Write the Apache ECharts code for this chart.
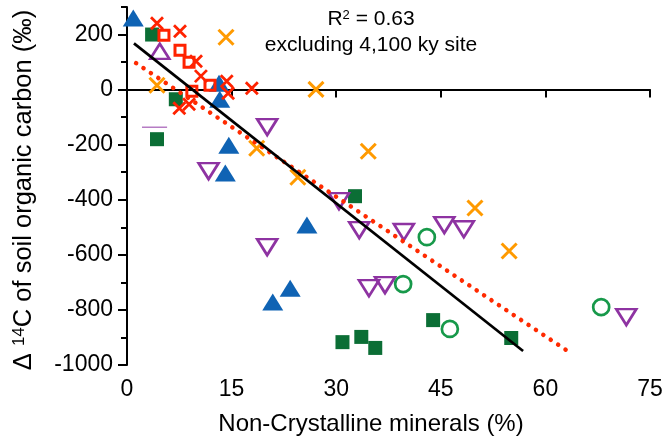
<!DOCTYPE html>
<html>
<head>
<meta charset="utf-8">
<script src="https://cdn.jsdelivr.net/npm/echarts@6/dist/echarts.min.js"></script>
<style>
html,body{margin:0;padding:0;background:#fff;}
#chart{width:667px;height:439px;}
</style>
</head>
<body>
<div id="chart"></div>
<script>
// ---- data (x = non-crystalline minerals %, y = Δ14C ‰) ----
const blueTriangles = [[0.9,260],[13.2,23],[13.3,-35],[14.6,-202],[14.1,-303],[25.8,-492],[23.4,-721],[20.9,-771]];
const greenSquares = [[3.6,200],[7.0,-35],[4.3,-180],[32.7,-387],[30.9,-917],[33.6,-898],[35.6,-938],[43.9,-837],[55.1,-902]];
const purpleDownTriangles = [[20.1,-136],[11.7,-296],[20.1,-572],[30.4,-405],[33.3,-510],[39.7,-517],[45.5,-492],[48.3,-507],[34.7,-721],[37.0,-710],[71.6,-826]];
const purpleUpTriangles = [[4.7,139]];
const greenCircles = [[43.0,-536],[39.6,-706],[46.3,-869],[68.0,-790]];
const orangeCrosses = [[4.3,16],[14.2,190],[27.1,1],[18.6,-213],[24.5,-318],[34.6,-224],[49.9,-430],[54.8,-586]];
const redCrosses = [[4.3,241],[7.6,212],[9.9,103],[10.6,49],[14.3,30],[14.5,-13],[17.9,5],[7.5,-68],[8.9,-53]];
const redSquares = [[5.3,197],[7.6,143],[8.9,99],[9.3,-6],[11.9,16]];
const fitExcluding = [[1.0,168],[56.8,-949]];
const fitAll = [[1.3,96],[63.0,-946]];
const strayMark = [[2.15,-137],[5.75,-137]];

const xTicks = [0,15,30,45,60,75];
const yMajorTicks = [-1000,-800,-600,-400,-200,0,200];
const yMinorTicks = [-900,-700,-500,-300,-100,100,300];
const yMin = -1000, yMax = 300;

const FONT = 'Liberation Sans, Arial, sans-serif';
const C = {
  blue:'#0F63B4', dgreen:'#0B6E35', purple:'#8E33A2', green:'#17994A',
  orange:'#FF9A00', red:'#FF2200'
};
const CROSS = 'path://M0,0L10,10M0,10L10,0';

const chart = echarts.init(document.getElementById('chart'), null, {renderer:'canvas'});
chart.setOption({
  animation:false,
  backgroundColor:'#fff',
  grid:{left:127,right:17,top:7,bottom:74},
  xAxis:{
    type:'value', min:xTicks[0], max:xTicks[xTicks.length-1], interval:15,
    axisLine:{show:true,lineStyle:{color:'#000',width:2}},
    axisTick:{show:true,length:8,lineStyle:{color:'#000',width:2}},
    axisLabel:{show:true,margin:13,fontSize:23,fontFamily:FONT,color:'#000',formatter:v=>String(v)},
    splitLine:{show:false}
  },
  yAxis:[{
    type:'value', min:yMin, max:yMax, interval:100,
    axisLine:{show:true,lineStyle:{color:'#000',width:2}},
    axisTick:{show:true,length:6,customValues:yMinorTicks,lineStyle:{color:'#000',width:2}},
    axisLabel:{show:false},
    splitLine:{show:false}
  },{
    type:'value', min:yMin, max:yMax, interval:100, position:'left',
    axisLine:{show:false},
    axisTick:{show:true,length:9,customValues:yMajorTicks,lineStyle:{color:'#000',width:2}},
    axisLabel:{show:true,customValues:yMajorTicks,margin:14,fontSize:23,fontFamily:FONT,color:'#000',formatter:v=>String(v)},
    splitLine:{show:false}
  }],
  graphic:[
    {type:'text', x:371, y:19, z:100, style:{
      text:'{a|R}{s|2}{a| = 0.63}', align:'center', verticalAlign:'middle',
      rich:{a:{fontSize:21,fontFamily:FONT,fill:'#000'},s:{fontSize:13,fontFamily:FONT,fill:'#000',verticalAlign:'top'}}
    }},
    {type:'text', x:371, y:45, z:100, style:{
      text:'excluding 4,100 ky site', align:'center', verticalAlign:'middle',
      font:'21px ' + FONT, fill:'#000'
    }},
    {type:'text', x:371, y:424, z:100, style:{
      text:'Non-Crystalline minerals (%)', align:'center', verticalAlign:'middle',
      font:'24px ' + FONT, fill:'#000'
    }},
    {type:'text', x:24, y:190, rotation:Math.PI/2, z:100, style:{
      text:'{a|Δ }{s|14}{a|C of soil organic carbon (‰)}', align:'center', verticalAlign:'middle',
      rich:{a:{fontSize:25.5,fontFamily:FONT,fill:'#000'},s:{fontSize:17,fontFamily:FONT,fill:'#000',verticalAlign:'top'}}
    }}
  ],
  series:[
    {type:'scatter', data:blueTriangles, symbol:'triangle', symbolSize:[21,17],
      itemStyle:{color:C.blue,opacity:1}},
    {type:'scatter', data:greenSquares, symbol:'rect', symbolSize:14,
      itemStyle:{color:C.dgreen,opacity:1}},
    {type:'scatter', data:purpleDownTriangles, symbol:'triangle', symbolRotate:180, symbolSize:[20,16],
      itemStyle:{color:'rgba(0,0,0,0)',borderColor:C.purple,borderWidth:2.6,opacity:1}},
    {type:'scatter', data:purpleUpTriangles, symbol:'triangle', symbolSize:[19,15],
      itemStyle:{color:'rgba(0,0,0,0)',borderColor:C.purple,borderWidth:2.6,opacity:1}},
    {type:'scatter', data:greenCircles, symbol:'circle', symbolSize:16,
      itemStyle:{color:'rgba(0,0,0,0)',borderColor:C.green,borderWidth:2.7,opacity:1}},
    {type:'scatter', data:orangeCrosses, symbol:CROSS, symbolSize:15,
      itemStyle:{color:C.orange,borderColor:C.orange,borderWidth:3,opacity:1}},
    {type:'scatter', data:redSquares, symbol:'rect', symbolSize:10,
      itemStyle:{color:'rgba(0,0,0,0)',borderColor:C.red,borderWidth:3,opacity:1}},
    {type:'scatter', data:redCrosses, symbol:CROSS, symbolSize:12,
      itemStyle:{color:C.red,borderColor:C.red,borderWidth:2.8,opacity:1}},
    {type:'line', data:strayMark, symbol:'none', lineStyle:{color:'#B67CC4',width:1.5}},
    {type:'line', data:fitAll, symbol:'none', z:5,
      lineStyle:{color:'#FF2A00',width:4.5,type:[0.1,8.8],cap:'round'}},
    {type:'line', data:fitExcluding, symbol:'none', z:6,
      lineStyle:{color:'#000',width:2.7}}
  ]
});
</script>
</body>
</html>
